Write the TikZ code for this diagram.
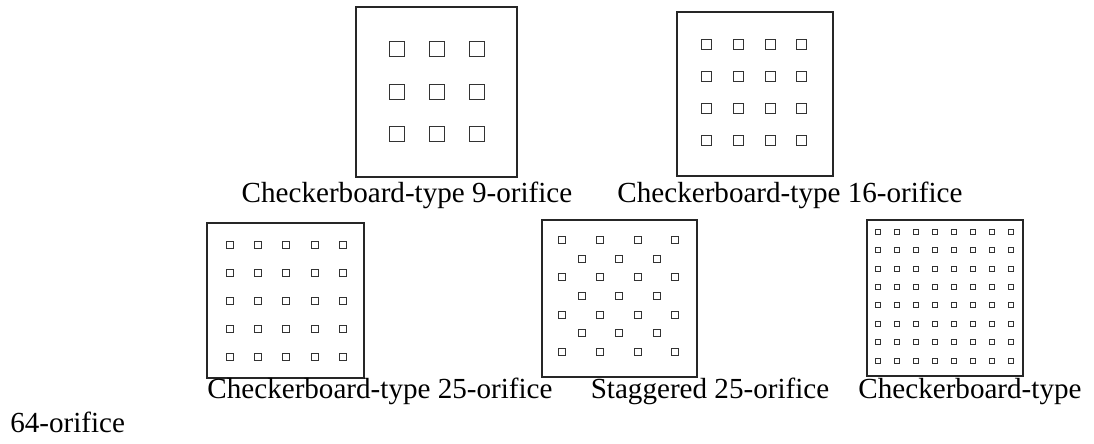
\documentclass[tikz,border=0pt]{standalone}
\usepackage{fontspec}
\setmainfont{Liberation Serif}
\usetikzlibrary{positioning}

\tikzset{
  plate/.style={draw=black!85,line width=0.8pt},
  hole/.style={draw=black!80,line width=0.7pt},
  caption/.style={anchor=base,inner sep=0pt,font=\fontsize{20.7}{24}\selectfont}
}

\begin{document}
\begin{tikzpicture}[x=0.025cm,y=-0.025cm,line join=miter]
  \useasboundingbox (0,0) rectangle (1094,444);

  % Top row: 9 and 16 orifices.
  \draw[plate] (356,7) rectangle (517,177);
  \foreach \i in {0,1,2}
    \foreach \j in {0,1,2}
      \draw[hole] ({396.6+40.1*\i-7.5},{49.2+42.5*\j-7.5}) rectangle ++(15,15);

  \draw[plate] (677,12) rectangle (833,176);
  \foreach \i in {0,...,3}
    \foreach \j in {0,...,3}
      \draw[hole] ({706.7+31.7*\i-5},{44.3+31.9*\j-5}) rectangle ++(10,10);

  % Bottom row: 25, staggered 25 and 64 orifices.
  \draw[plate] (207,223) rectangle (364,378);
  \foreach \i in {0,...,4}
    \foreach \j in {0,...,4}
      \draw[hole] ({230+28.2*\i-3.5},{245+28.1*\j-3.5}) rectangle ++(7,7);

  \draw[plate] (542,220) rectangle (697,377);
  \foreach \j in {0,2,4,6}
    \foreach \i in {0,...,3}
      \draw[hole] ({562.3+37.6*\i-3.5},{240+18.67*\j-3.5}) rectangle ++(7,7);
  \foreach \j in {1,3,5}
    \foreach \i in {0,1,2}
      \draw[hole] ({581.7+37.5*\i-3.5},{240+18.67*\j-3.5}) rectangle ++(7,7);

  \draw[plate] (867,220) rectangle (1023,376);
  \foreach \i in {0,...,7}
    \foreach \j in {0,...,7}
      \draw[hole] ({878.3+18.96*\i-2.5},{231.7+18.43*\j-2.5}) rectangle ++(5,5);

  % Captions, set as one running line each.
  \node[caption] (cap9) at (407,203) {Checkerboard-type 9-orifice};
  \node[caption] (cap16) at (790,203) {Checkerboard-type 16-orifice};
  \node[caption] (cap25) at (380,399) {Checkerboard-type 25-orifice};
  \node[caption] (capst) at (710,399) {Staggered 25-orifice};
  \node[caption] (cap64) at (970,399) {Checkerboard-type};
  \node[caption,anchor=base west] (cap64b) at (10,433) {64-orifice};
\end{tikzpicture}
\end{document}
